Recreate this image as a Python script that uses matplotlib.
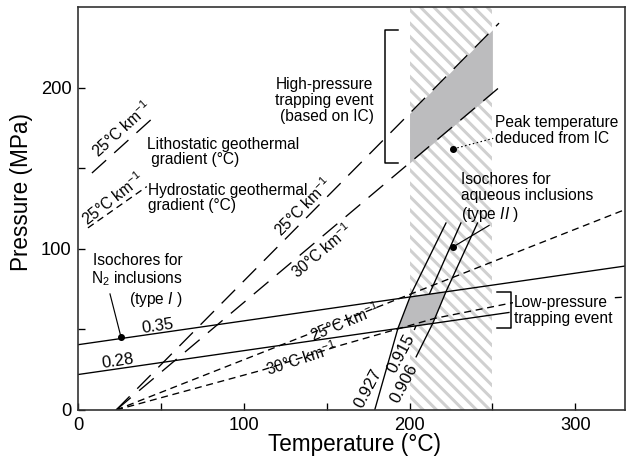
import numpy as np
import matplotlib
matplotlib.use('agg')
import matplotlib.pyplot as plt
from matplotlib import font_manager

installed = {f.name for f in font_manager.fontManager.ttflist}
FONT = 'Liberation Sans Narrow' if 'Liberation Sans Narrow' in installed else 'Liberation Sans'

plt.rcParams.update({
    'font.family': FONT,
    'mathtext.fontset': 'custom',
    'mathtext.rm': FONT,
    'mathtext.it': FONT + ':italic',
    'mathtext.default': 'regular',
    'lines.scale_dashes': False,
    'hatch.color': '#d0d0d0',
    'hatch.linewidth': 1.8,
})

# lithostatic geothermal gradients (long dashes)
litho_T = [23, 254]
litho25_P = [0, 240]
litho30_P = [0, 200]

# hydrostatic geothermal gradients (short dashes)
hydro25_T = [23, 330]
hydro25_P = [0, 124.3]
hydro30_T = [23, 111, 158, 215, 262, 330]
hydro30_P = [0, 24.7, 40, 56.8, 66.5, 70]

# isochores for N2 inclusions (type I)
n2_labels = ['0.35', '0.28']
n2_T = [[0, 330], [0, 260]]
n2_P = [[40.5, 89.3], [22, 60.5]]

# isochores for aqueous inclusions (type II)
aq_labels = ['0.927', '0.915', '0.906']
aq_T = [[179, 193, 201, 222], [203, 212, 231], [204, 214, 222, 241]]
aq_P = [[0, 50.6, 72, 116], [50, 72, 116], [33, 53.7, 73.4, 116]]

# temperature window from illite crystallinity (IC)
ic_T = [200, 250]
peak_T, peak_P = 226.5, 162

# marked points
n2_dot = (26, 45)
aq_dot = (226, 101)


def crossing(t1, p1, t2, p2):
    t = np.linspace(max(t1[0], t2[0]), min(t1[-1], t2[-1]), 4000)
    d = np.interp(t, t1, p1) - np.interp(t, t2, p2)
    i = np.argmin(np.abs(d))
    return t[i], np.interp(t[i], t1, p1)


fig = plt.figure(figsize=(631 / 120, 460 / 120), dpi=120)
ax = fig.add_axes([78 / 631, 50 / 460, 547 / 631, 403 / 460])
ax.set_xlim(0, 330)
ax.set_ylim(0, 250)


def disp_angle(slope):
    (x0, y0), (x1, y1) = ax.transData.transform([(100, 100), (101, 100 + slope)])
    return np.degrees(np.arctan2(y1 - y0, x1 - x0))


LONG = (0, (11.5, 6.5))
SHORT = (0, (4.2, 2.8))
lw = 0.8

# hatched IC window
ax.axvspan(ic_T[0], ic_T[1], facecolor='none', edgecolor='#d0d0d0', lw=0,
           hatch='\\\\\\', zorder=0.5)

# geothermal gradients
ax.plot(litho_T, litho25_P, color='k', lw=lw, ls=LONG, zorder=2)
ax.plot(litho_T, litho30_P, color='k', lw=lw, ls=LONG, zorder=2)
ax.plot(hydro25_T, hydro25_P, color='k', lw=lw, ls=SHORT, zorder=2)
ax.plot(hydro30_T, hydro30_P, color='k', lw=lw, ls=SHORT, zorder=2)

# isochores
for t, p in zip(n2_T, n2_P):
    ax.plot(t, p, color='k', lw=lw, zorder=2)
for i, (t, p) in enumerate(zip(aq_T, aq_P)):
    ax.plot(t, p, color='k', lw=lw, zorder=1 if i == 1 else 2)

# high-pressure trapping field
tt = np.linspace(ic_T[0], ic_T[1], 50)
hp_lo = np.interp(tt, litho_T, litho30_P)
hp_hi = np.interp(tt, litho_T, litho25_P)
ax.fill_between(tt, hp_lo, hp_hi, color='#bcbcbe', lw=0, zorder=1.5)

# low-pressure trapping field
corners = [crossing(aq_T[0], aq_P[0], n2_T[1], n2_P[1]),
           crossing(aq_T[2], aq_P[2], n2_T[1], n2_P[1]),
           crossing(aq_T[2], aq_P[2], n2_T[0], n2_P[0]),
           crossing(aq_T[0], aq_P[0], n2_T[0], n2_P[0])]
lp_T = [c[0] for c in corners]
lp_P = [c[1] for c in corners]
ax.fill(lp_T, lp_P, color='#bcbcbe', lw=0, zorder=1.5)

# brackets
hb_lo, hb_hi = hp_lo[0], hp_hi[-1]
ax.plot([193, 185.5, 185.5, 193], [hb_hi, hb_hi, hb_lo, hb_lo], color='k', lw=0.9, zorder=2)
lb_lo, lb_hi = min(lp_P), max(lp_P)
ax.plot([252.5, 261.5, 261.5, 252.5], [lb_hi, lb_hi, lb_lo, lb_lo], color='k', lw=0.9, zorder=2)

# points
ax.plot(*n2_dot, 'o', color='k', ms=3.2, zorder=4)
ax.plot(*aq_dot, 'o', color='k', ms=3.2, zorder=4)
ax.plot(peak_T, peak_P, 'o', color='k', ms=3.2, zorder=4)
ax.plot([n2_dot[0], 19.3], [n2_dot[1], 72], color='k', lw=0.7)
ax.plot([aq_dot[0], 248], [aq_dot[1], 114.5], color='k', lw=0.7)
ax.plot([peak_T, 250.5], [peak_P, 168.5], color='k', lw=0.7, ls=(0, (0.9, 1.5)))

fs = 9.3
# legend-like samples at upper left
ax.plot([8.4, 45], [147, 181], color='k', lw=lw, ls=LONG)
ax.text(26.3, 174, '25°C km$^{-1}$', fontsize=fs, rotation=disp_angle(34 / 36.6),
        ha='center', va='center', rotation_mode='anchor')
ax.text(41.6, 160, 'Lithostatic geothermal\n gradient (°C)', fontsize=fs,
        ha='left', va='center', linespacing=1.05)
ax.plot([6, 41.5], [113, 138.6], color='k', lw=lw, ls=SHORT)
ax.text(21, 131, '25°C km$^{-1}$', fontsize=fs, rotation=38,
        ha='center', va='center', rotation_mode='anchor')
ax.text(42.2, 131.5, 'Hydrostatic geothermal\ngradient (°C)', fontsize=fs,
        ha='left', va='center', linespacing=1.05)

# gradient labels on the lines
ax.text(136, 126, '25°C km$^{-1}$', fontsize=fs, rotation=disp_angle(1.04),
        ha='center', va='center', rotation_mode='anchor')
ax.text(146.8, 98.8, '30°C km$^{-1}$', fontsize=fs, rotation=disp_angle(0.867),
        ha='center', va='center', rotation_mode='anchor')
ax.text(161, 54.5, '25°C km$^{-1}$', fontsize=fs, rotation=disp_angle(0.405) + 1,
        ha='center', va='center', rotation_mode='anchor')
ax.text(134.7, 31.8, '30°C km$^{-1}$', fontsize=fs, rotation=disp_angle(0.28) + 3,
        ha='center', va='center', rotation_mode='anchor')

# isochore labels
n2_pos = [(48, 52), (24, 30)]
for lab, (x, y) in zip(n2_labels, n2_pos):
    ax.text(x, y, lab, fontsize=10, rotation=disp_angle(0.148),
            ha='center', va='center', rotation_mode='anchor')
aq_pos = [(174.9, 13.4), (195, 35), (197, 16.5)]
for lab, (x, y) in zip(aq_labels, aq_pos):
    ax.text(x, y, lab, fontsize=10, rotation=62,
            ha='center', va='center', rotation_mode='anchor')

# annotations
ax.text(178.3, 192, 'High-pressure\ntrapping event\n(based on IC)', fontsize=fs,
        ha='right', va='center', linespacing=1.1)
ax.text(251.8, 173.5, 'Peak temperature\ndeduced from IC', fontsize=fs,
        ha='left', va='center', linespacing=1.1)
ax.text(231.3, 131.5, 'Isochores for\naqueous inclusions\n(type $\\it{II}$ )', fontsize=fs,
        ha='left', va='center', linespacing=1.1)
ax.text(63.3, 80, 'Isochores for\nN$_2$ inclusions\n(type $\\it{I}$ )', fontsize=fs,
        ha='right', va='center', linespacing=1.1, multialignment='right')
ax.text(263, 61.5, 'Low-pressure\ntrapping event', fontsize=fs,
        ha='left', va='center', linespacing=1.1, zorder=3,
        bbox=dict(facecolor='white', edgecolor='none', pad=0.5))

# axes styling
ax.set_xticks(np.arange(0, 301, 50))
ax.set_xticklabels(['0', '', '100', '', '200', '', '300'])
ax.set_yticks(np.arange(0, 201, 50))
ax.set_yticklabels(['0', '', '100', '', '200'])
ax.tick_params(direction='in', length=4.2, width=0.8, labelsize=11, pad=4)
for s in ax.spines.values():
    s.set_linewidth(1.0)
    s.set_color('#333333')
ax.set_xlabel('Temperature (°C)', fontsize=13.5)
ax.set_ylabel('Pressure (MPa)', fontsize=13.5)
ax.xaxis.set_label_coords(0.5055, -0.058)
ax.yaxis.set_label_coords(-0.082, 0.54)

fig.savefig('out.png', dpi=120)
